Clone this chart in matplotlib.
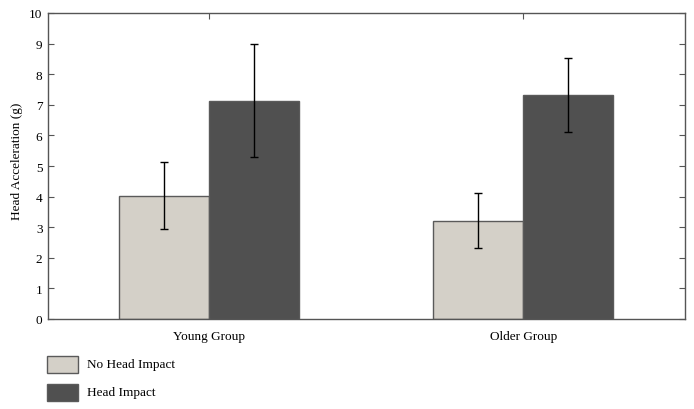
import matplotlib
matplotlib.use("Agg")
import matplotlib.pyplot as plt
import numpy as np
from matplotlib.patches import Rectangle

groups = ["Young Group", "Older Group"]
series = ["No Head Impact", "Head Impact"]
no_impact = [4.03, 3.21]
no_impact_err = [1.10, 0.90]
impact = [7.13, 7.32]
impact_err = [1.85, 1.20]
yticks = list(range(0, 11))

plt.rcParams['font.family'] = ['Liberation Serif', 'DejaVu Serif']

W, H = 694, 410
fig = plt.figure(figsize=(W/100, H/100), dpi=100)
ax = fig.add_axes([48/W, 90/H, 637/W, 306/H])

x = np.array([1.0, 2.0])
w = 0.286
light = "#d4d0c8"
dark = "#505050"
edge = "#5a5a5a"
colors = [light, dark]

ax.bar(x - w/2, no_impact, w, color=light, edgecolor=edge, linewidth=1.0, zorder=2)
ax.bar(x + w/2, impact, w, color=dark, edgecolor=edge, linewidth=1.0, zorder=2)
ax.errorbar(x - w/2, no_impact, yerr=no_impact_err, fmt='none', ecolor='black',
            elinewidth=1.0, capsize=3, capthick=1.0, zorder=3)
ax.errorbar(x + w/2, impact, yerr=impact_err, fmt='none', ecolor='black',
            elinewidth=1.0, capsize=3, capthick=1.0, zorder=3)

ax.set_xlim(0.489, 2.514)
ax.set_ylim(0, 10)
ax.set_yticks(yticks)
ax.set_yticklabels([str(t) for t in yticks], fontsize=9.5)
ax.set_xticks(x)
ax.set_xticklabels(groups, fontsize=9.5)
ax.tick_params(axis='x', which='both', bottom=False, top=True, direction='in',
               length=4, color='#555555', pad=8)
ax.tick_params(axis='y', which='both', left=True, right=True, direction='in',
               length=4, color='#555555', pad=4)
for s in ax.spines.values():
    s.set_color('#555555')
    s.set_linewidth(1.0)
ax.set_ylabel("Head Acceleration (g)", fontsize=9.5, labelpad=4)
ax.yaxis.set_label_coords(-25/637, 0.52)

# legend drawn manually in figure pixel coordinates
rows_top = [357, 385]
for lab, col, top in zip(series, colors, rows_top):
    fig.add_artist(Rectangle((47/W, 1 - (top + 17)/H), 31/W, 17/H,
                             transform=fig.transFigure, facecolor=col,
                             edgecolor=edge, linewidth=1.0))
    fig.text(87/W, 1 - (top + 8.5)/H, lab, fontsize=9.5, va='center', ha='left')

fig.savefig("out.png", dpi=100)
